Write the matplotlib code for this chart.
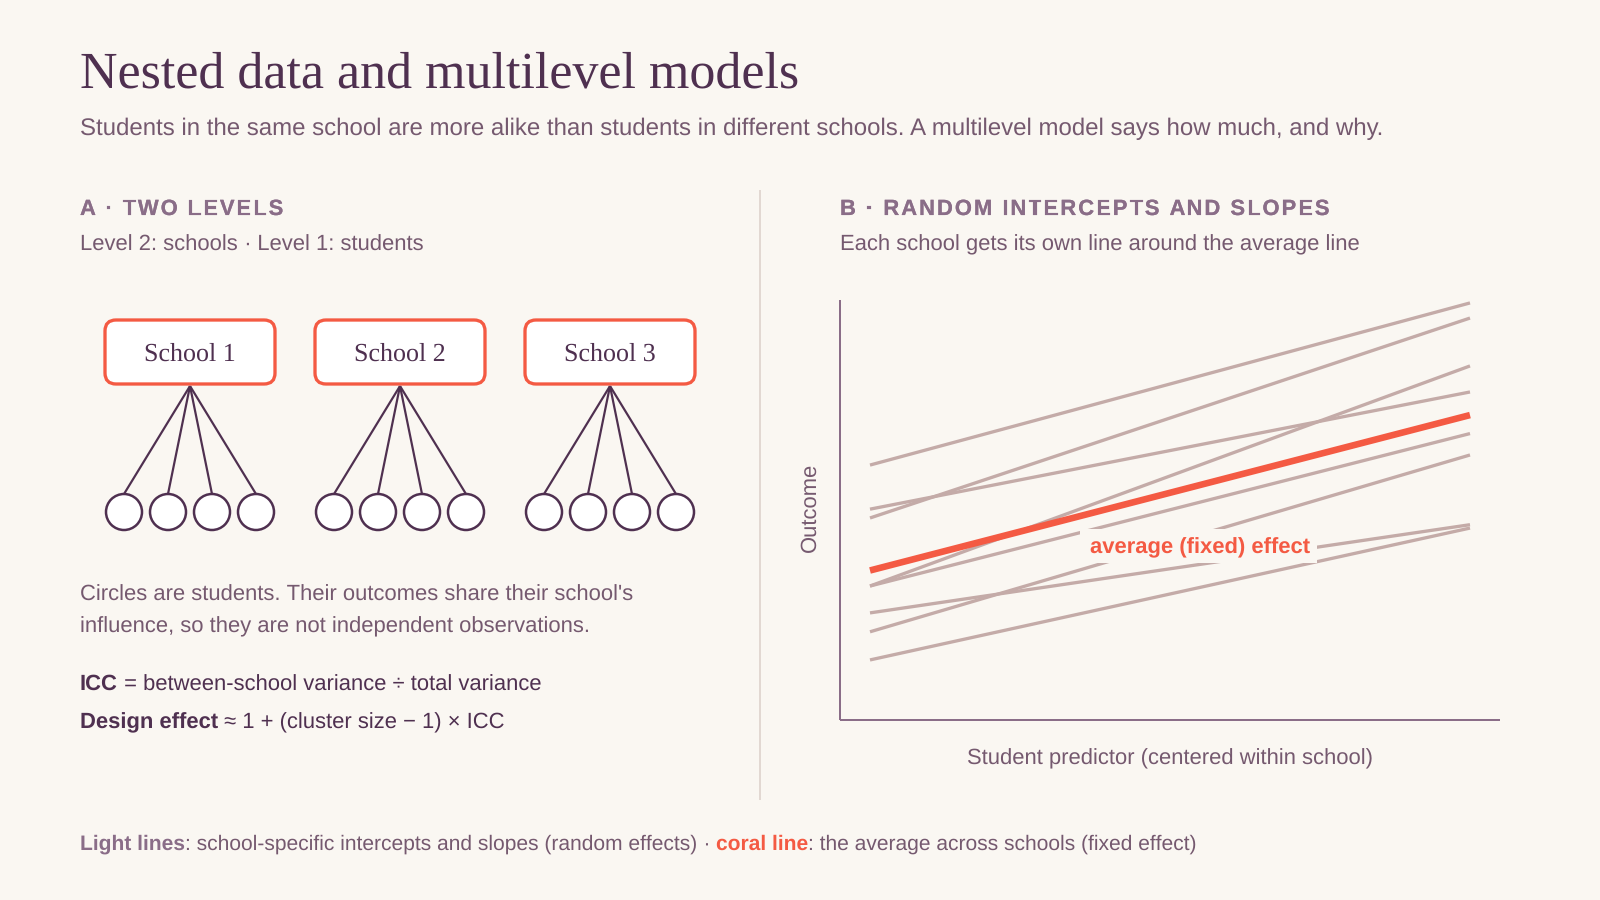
import matplotlib
matplotlib.use("Agg")
import matplotlib.pyplot as plt
import matplotlib.patheffects as pe
from matplotlib.patches import FancyBboxPatch, Circle, Rectangle
from matplotlib.font_manager import FontProperties
from matplotlib.textpath import text_to_path

plt.rcParams["text.hinting"] = "no_hinting"
plt.rcParams["text.hinting_factor"] = 1

# Colours
BG = "#FAF7F2"
DARK = "#4F3050"
MID = "#75596F"
SECTION = "#8A6D88"
CORAL = "#F45A43"
LIGHT = "#C4ABA8"
RULE = "#E2D8D2"

SANS = "Liberation Sans"
SERIF = "Liberation Serif"

# Data
schools = ["School 1", "School 2", "School 3"]
students_per_school = 4
predictor = [-1, 1]
school_starts = [6.07, 4.81, 3.19, 5.02, 3.19, 2.10, 2.55, 1.43]
school_ends = [9.93, 9.57, 8.43, 7.81, 6.82, 6.31, 4.65, 4.57]
average_line = [3.56, 7.26]


def pt(px):
    return px * 0.72


fig = plt.figure(figsize=(16, 9), dpi=100, facecolor=BG)

# page layer, in pixels
page = fig.add_axes([0, 0, 1, 1], zorder=0)
page.set_xlim(0, 1600)
page.set_ylim(900, 0)
page.axis("off")


def text_width(s, prop):
    # unhinted width in pixels, trailing spaces included
    # bar as end marker because it does not kern with the letter before it
    w_bar = text_to_path.get_text_width_height_descent("|", prop, False)[0]
    w = text_to_path.get_text_width_height_descent(s + "|", prop, False)[0]
    return (w - w_bar) * 100 / 72


def runs(x, y, parts, size):
    # several styles on one line
    for s, color, weight in parts:
        prop = FontProperties(family=SANS, size=pt(size), weight=weight)
        page.text(x, y, s, color=color, fontproperties=prop, va="baseline")
        x += text_width(s, prop)
    return x


def spaced(x, y, s, color, size, spacing):
    # css style letter spacing, path effect keeps the glyphs off the pixel grid
    prop = FontProperties(family=SANS, size=pt(size), weight="bold")
    for i, ch in enumerate(s):
        if ch != " ":
            xi = x + text_width(s[:i], prop) + i * spacing
            page.text(xi, y, ch, color=color, fontproperties=prop, va="baseline",
                      path_effects=[pe.withStroke(linewidth=0.12, foreground=color)])


page.text(80, 87, "Nested data and multilevel models", family=SERIF, fontsize=pt(52), color=DARK, va="baseline")
page.text(80, 135, "Students in the same school are more alike than students in different schools. A multilevel model says how much, and why.",
          family=SANS, fontsize=pt(24), color=MID, va="baseline")

# Panel A
spaced(80, 215, "A · TWO LEVELS", SECTION, 22, 1.98)
page.text(80, 251, "Level 2: schools · Level 1: students", family=SANS, fontsize=pt(22), color=MID, va="baseline")

for i, name in enumerate(schools):
    cx = 190 + i * 210
    for j in range(students_per_school):
        sx = cx - 66 + j * 44
        page.plot([cx, sx], [386, 494], color=DARK, lw=pt(2.2), zorder=2, solid_capstyle="butt")
        page.add_patch(Circle((sx, 512), 18, fc="white", ec=DARK, lw=pt(2.5), zorder=3))
    page.add_patch(FancyBboxPatch((cx - 85 + 11, 320 + 11), 170 - 22, 64 - 22,
                                  boxstyle="round,pad=11,rounding_size=11",
                                  fc="white", ec=CORAL, lw=pt(3.3), zorder=3))
    page.text(cx, 361, name, family=SERIF, fontsize=pt(26), color=DARK, ha="center", va="baseline", zorder=4)

page.text(80, 601, "Circles are students. Their outcomes share their school's", family=SANS, fontsize=pt(22), color=MID, va="baseline")
page.text(80, 632, "influence, so they are not independent observations.", family=SANS, fontsize=pt(22), color=MID, va="baseline")

# the bold run sits a pixel low otherwise
icc_end = runs(80, 690, [("ICC", DARK, "bold")], 22)
runs(icc_end, 691, [(" = between-school variance ÷ total variance", DARK, "normal")], 22)
runs(80, 728, [("Design effect", DARK, "bold"), (" ≈ 1 + (cluster size − 1) × ICC", DARK, "normal")], 22)

page.plot([760, 760], [190, 800], color=RULE, lw=pt(2), solid_capstyle="butt")

# Panel B
spaced(840, 215, "B · RANDOM INTERCEPTS AND SLOPES", SECTION, 22, 1.98)
page.text(840, 250, "Each school gets its own line around the average line", family=SANS, fontsize=pt(22), color=MID, va="baseline")

ax = fig.add_axes([840 / 1600, 180 / 900, 660 / 1600, 420 / 900], zorder=1)
ax.patch.set_alpha(0)
ax.set_xlim(-1.1, 1.1)
ax.set_ylim(0, 10)
ax.set_xticks([])
ax.set_yticks([])
for side in ["top", "right"]:
    ax.spines[side].set_visible(False)
for side in ["left", "bottom"]:
    ax.spines[side].set_color(SECTION)
    ax.spines[side].set_linewidth(pt(2))
    ax.spines[side].set_capstyle("butt")

for start, end in zip(school_starts, school_ends):
    ax.plot(predictor, [start, end], color=LIGHT, lw=pt(3.3), solid_capstyle="butt", zorder=2)
ax.plot(predictor, average_line, color=CORAL, lw=pt(6.6), solid_capstyle="butt", zorder=3)
ax.add_patch(Rectangle((-0.3, 3.75), 0.79, 0.8, fc=BG, ec="none", zorder=4))
ax.text(0.1, 4.10, "average (fixed) effect", family=SANS, fontsize=pt(22), weight="bold", color=CORAL,
        ha="center", va="center", zorder=5)

page.text(810, 507, "Outcome", family=SANS, fontsize=pt(22), color=MID, rotation=90, ha="center", va="center")
page.text(1170, 764, "Student predictor (centered within school)", family=SANS, fontsize=pt(22), color=MID, ha="center", va="baseline")

# Footer
runs(80, 850, [("Light lines", SECTION, "bold"),
               (": school-specific intercepts and slopes (random effects) · ", MID, "normal"),
               ("coral line", CORAL, "bold"),
               (": the average across schools (fixed effect)", MID, "normal")], 21)

fig.savefig("out.png", dpi=100, facecolor=BG)
